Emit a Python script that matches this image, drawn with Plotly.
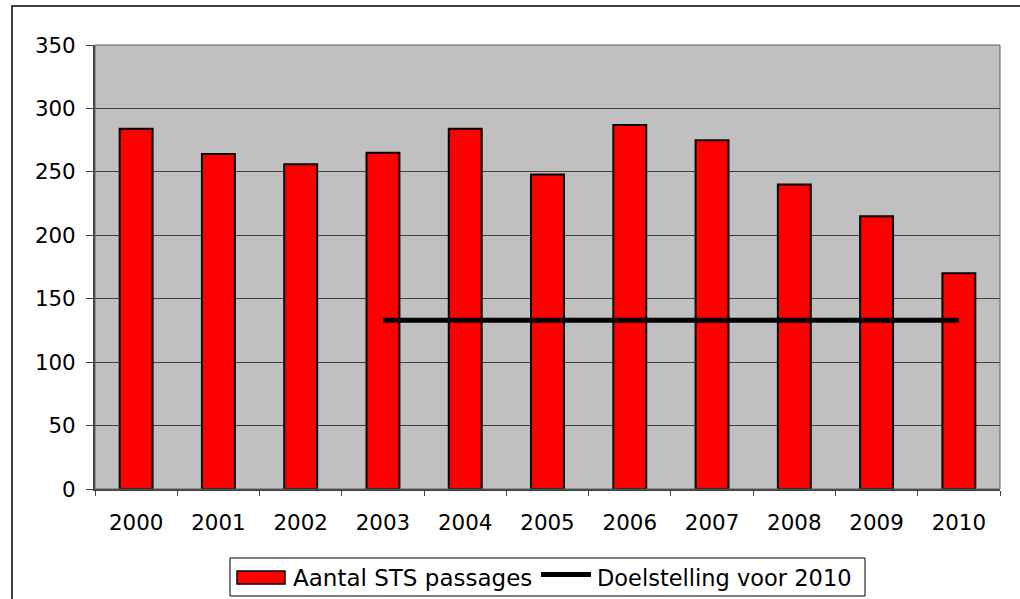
import plotly.graph_objects as go

years = ["2000", "2001", "2002", "2003", "2004", "2005", "2006", "2007", "2008", "2009", "2010"]
sts_passages = [284, 264, 256, 265, 284, 248, 287, 275, 240, 215, 170]
target_years = ["2003", "2004", "2005", "2006", "2007", "2008", "2009", "2010"]
target_values = [133, 133, 133, 133, 133, 133, 133, 133]
y_ticks = [0, 50, 100, 150, 200, 250, 300, 350]
legend_labels = ["Aantal STS passages", "Doelstelling voor 2010"]

font_family = "DejaVu Sans, Verdana, sans-serif"

# plot-area geometry (pixels) used for placing the custom legend / frame
L, R, T, B = 95, 1000, 45, 489
W, H = 1020, 599


def px(x):
    return (x - L) / (R - L)


def py(y):
    return (B - y) / (B - T)


fig = go.Figure()
fig.add_trace(go.Bar(
    x=years, y=sts_passages, name=legend_labels[0],
    marker=dict(color="#FF0000", line=dict(color="black", width=2)),
    showlegend=False,
))
fig.add_trace(go.Scatter(
    x=target_years, y=target_values, name=legend_labels[1],
    mode="lines", line=dict(color="black", width=5),
    showlegend=False,
))

shapes = [
    # plot area frame
    dict(type="rect", xref="paper", yref="paper", x0=0, x1=1, y0=0, y1=1,
         line=dict(color="#606060", width=1), layer="above"),
    # outer chart frame
    dict(type="rect", xref="paper", yref="paper", x0=px(12), x1=px(1035), y0=py(615), y1=py(6),
         line=dict(color="black", width=1.5), layer="below"),
    # legend box
    dict(type="rect", xref="paper", yref="paper", x0=px(230), x1=px(865), y0=py(596), y1=py(558),
         line=dict(color="black", width=1), fillcolor="white", layer="above"),
    # legend bar symbol
    dict(type="rect", xref="paper", yref="paper", x0=px(237), x1=px(285), y0=py(584), y1=py(571),
         line=dict(color="black", width=1.5), fillcolor="#FF0000", layer="above"),
    # legend line symbol
    dict(type="line", xref="paper", yref="paper", x0=px(541), x1=px(591), y0=py(574.5), y1=py(574.5),
         line=dict(color="black", width=5), layer="above"),
]

annotations = [
    dict(text=legend_labels[0], xref="paper", yref="paper", x=px(291), y=py(577.5),
         xanchor="left", yanchor="middle", showarrow=False,
         font=dict(family=font_family, size=23, color="black")),
    dict(text=legend_labels[1], xref="paper", yref="paper", x=px(595), y=py(577.5),
         xanchor="left", yanchor="middle", showarrow=False,
         font=dict(family=font_family, size=22.5, color="black")),
]

fig.update_layout(
    width=W, height=H,
    margin=dict(l=L, r=W - R, t=T, b=H - B),
    paper_bgcolor="white",
    plot_bgcolor="#C0C0C0",
    font=dict(family=font_family, size=21, color="black"),
    bargap=0.6,
    showlegend=False,
    xaxis=dict(
        type="category", showgrid=False, ticks="outside", tickson="boundaries",
        ticklen=5, tickcolor="#404040", showline=True, linecolor="#404040", linewidth=2,
        tickfont=dict(size=21.4), ticklabelstandoff=13, automargin=False,
    ),
    yaxis=dict(
        range=[0, 350], tickvals=y_ticks, showgrid=True, gridcolor="#404040", gridwidth=1,
        ticks="outside", ticklen=7, tickcolor="#404040", showline=True, linecolor="#404040",
        linewidth=2, zeroline=False, tickfont=dict(size=21.4), ticklabelstandoff=6,
        automargin=False,
    ),
    shapes=shapes,
    annotations=annotations,
)

fig.write_html("out.html", config={"displayModeBar": False},
               post_script="document.body.style.margin='0px';")
